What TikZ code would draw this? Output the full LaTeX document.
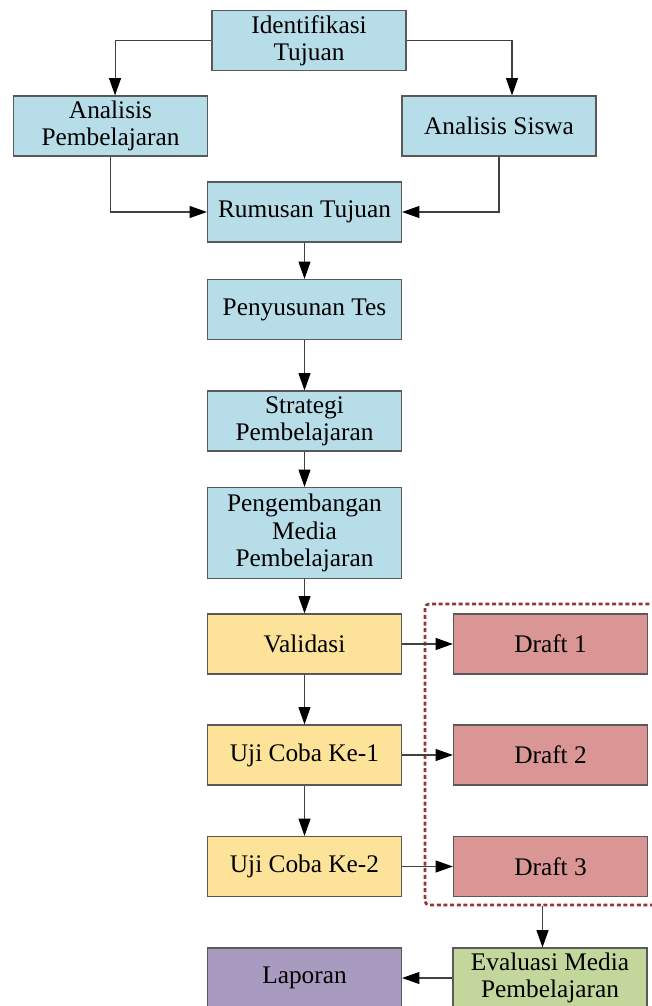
\documentclass[tikz,border=0pt]{standalone}
\usepackage{fontspec}
\setmainfont{Liberation Serif}
\usetikzlibrary{arrows.meta}
\definecolor{cblue}{HTML}{B7DDE8}
\definecolor{cyellow}{HTML}{FDE29A}
\definecolor{cred}{HTML}{D99694}
\definecolor{cgreen}{HTML}{C3D69B}
\definecolor{cpurple}{HTML}{A99BC0}
\definecolor{cdash}{HTML}{953735}
\definecolor{boxline}{HTML}{595959}
\definecolor{arrline}{HTML}{404040}
\begin{document}
\begin{tikzpicture}[x=0.75pt,y=-0.75pt,
  box/.style={draw=boxline, line width=0.9pt, minimum width=145.5pt, minimum height=45pt,
    align=center, inner sep=2pt, font=\fontsize{19}{20.5}\selectfont},
  arr/.style={draw=arrline, line width=0.8pt, -{Triangle[length=13pt,width=9pt,color=black]}},
  grpbox/.style={draw=cdash, line width=2pt, dash pattern=on 3pt off 2pt, rounded corners=3pt}]
\useasboundingbox (0,0) rectangle (652,1006);
\node[box, fill=cblue] (idt) at (309,40.5) {Identifikasi\\Tujuan};
\node[box, fill=cblue] (ap) at (110.5,126) {Analisis\\Pembelajaran};
\node[box, fill=cblue] (as) at (499,126) {Analisis Siswa};
\node[box, fill=cblue] (rt) at (304.5,212) {Rumusan Tujuan};
\node[box, fill=cblue] (pt) at (304.5,309.5) {Penyusunan Tes};
\node[box, fill=cblue] (sp) at (304.5,421) {Strategi\\Pembelajaran};
\node[box, fill=cblue, minimum height=68.25pt] (pm) at (304.5,533) {Pengembangan\\Media\\Pembelajaran};
\node[box, fill=cyellow] (val) at (304.5,644) {Validasi};
\node[box, fill=cyellow] (u1) at (304.5,755) {Uji Coba Ke-1};
\node[box, fill=cyellow] (u2) at (304.5,866.5) {Uji Coba Ke-2};
\node[box, fill=cred] (d1) at (550.5,644) {Draft 1};
\node[box, fill=cred] (d2) at (550.5,755) {Draft 2};
\node[box, fill=cred] (d3) at (550.5,866.5) {Draft 3};
\node[grpbox, minimum width=176.25pt, minimum height=225.75pt] (grp) at (542.5,754.5) {};
\node[box, fill=cgreen] (ev) at (550,978) {Evaluasi Media\\Pembelajaran};
\node[box, fill=cpurple] (lap) at (304.5,978) {Laporan};

\draw[arr] (idt.west) -| ([xshift=3.4pt]ap.north);
\draw[arr] (idt.east) -| ([xshift=9.75pt]as.north);
\draw[arr] (ap.south) |- (rt.west);
\draw[arr] (as.south) |- (rt.east);
\draw[arr] (rt) -- (pt);
\draw[arr] (pt) -- (sp);
\draw[arr] (sp) -- (pm);
\draw[arr] (pm) -- (val);
\draw[arr] (val) -- (u1);
\draw[arr] (u1) -- (u2);
\draw[arr] (val) -- (d1);
\draw[arr] (u1) -- (d2);
\draw[arr] (u2) -- (d3);
\draw[arr] (grp.south) -- (grp.south |- ev.north);
\draw[arr] (ev) -- (lap);
\end{tikzpicture}
\end{document}
